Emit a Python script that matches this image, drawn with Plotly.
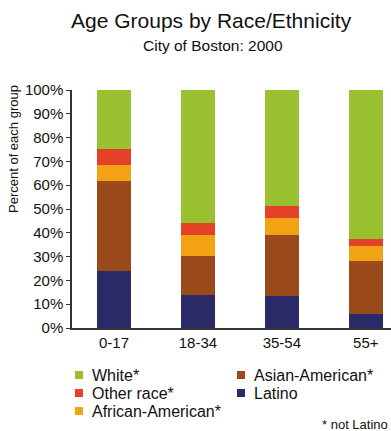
import plotly.graph_objects as go

age_groups = ["0-17", "18-34", "35-54", "55+"]

# Percent of each age group, stacked bottom to top
latino = [23.8, 14.0, 13.6, 6.0]
asian_american = [38.1, 16.3, 25.6, 22.3]
african_american = [6.6, 8.9, 7.1, 6.2]
other_race = [6.7, 5.0, 5.0, 3.0]
white = [24.8, 55.8, 48.7, 62.5]

y_ticks = [0, 10, 20, 30, 40, 50, 60, 70, 80, 90, 100]
y_tick_labels = [f"{v}%" for v in y_ticks]

series = [
    ("Latino", latino, "#2a2a68"),
    ("Asian-American*", asian_american, "#9b4a1c"),
    ("African-American*", african_american, "#f2a212"),
    ("Other race*", other_race, "#e34128"),
    ("White*", white, "#99c12f"),
]

# Legend layout: (name, swatch left x, row centre y) in pixels
legend_rows = [
    ("White*", 75, 375),
    ("Other race*", 75, 393),
    ("African-American*", 75, 411),
    ("Asian-American*", 237, 375),
    ("Latino", 237, 393),
]

font_family = "Liberation Sans, Arial, sans-serif"
W, H = 391, 431
ML, MT, MB = 72, 90, 103
PW, PH = W - ML, H - MT - MB

def px(x):
    return (x - ML) / PW

def py(y):
    return (H - MB - y) / PH

fig = go.Figure()
for name, vals, color in series:
    fig.add_trace(go.Bar(
        x=age_groups, y=vals, name=name,
        marker=dict(color=color, line=dict(width=0)),
        width=0.405, showlegend=False,
    ))

fig.update_layout(
    barmode="stack",
    width=W, height=H,
    margin=dict(l=ML, r=0, t=MT, b=MB, autoexpand=False),
    paper_bgcolor="white", plot_bgcolor="white",
    font=dict(family=font_family, color="#111111", size=15),
)

fig.update_xaxes(
    range=[-0.5, 3.3], showline=True, linecolor="#333333", linewidth=1.5,
    ticks="", tickfont=dict(size=15), showgrid=False, zeroline=False,
)
fig.update_yaxes(
    range=[0, 100], tickvals=y_ticks, ticktext=y_tick_labels,
    showline=True, linecolor="#333333", linewidth=1.5,
    ticks="outside", ticklen=4, tickcolor="#333333", tickwidth=1.2,
    tickfont=dict(size=15), showgrid=False, zeroline=False,
)

fig.add_annotation(
    text="Age Groups by Race/Ethnicity", xref="paper", yref="paper",
    x=px(211), y=py(21), showarrow=False,
    font=dict(size=21), xanchor="center", yanchor="middle",
)
fig.add_annotation(
    text="City of Boston: 2000", xref="paper", yref="paper",
    x=px(213), y=py(45), showarrow=False,
    font=dict(size=15.5), xanchor="center", yanchor="middle",
)
fig.add_annotation(
    text="Percent of each group", xref="paper", yref="paper",
    x=px(13), y=py(149), showarrow=False,
    textangle=-90, font=dict(size=13), xanchor="center", yanchor="middle",
)
fig.add_annotation(
    text="* not Latino", xref="paper", yref="paper",
    x=px(390), y=py(424), showarrow=False,
    font=dict(size=13), xanchor="right", yanchor="middle",
)

# Legend swatches and labels
color_of = {name: color for name, _, color in series}
for name, sx, sy in legend_rows:
    fig.add_shape(
        type="rect", xref="paper", yref="paper",
        x0=px(sx), x1=px(sx + 8), y0=py(sy + 4), y1=py(sy - 4),
        fillcolor=color_of[name], line=dict(width=0),
    )
    fig.add_annotation(
        text=name, xref="paper", yref="paper",
        x=px(sx + 15), y=py(sy), showarrow=False,
        font=dict(size=16), xanchor="left", yanchor="middle",
    )

fig.write_html("out.html")
